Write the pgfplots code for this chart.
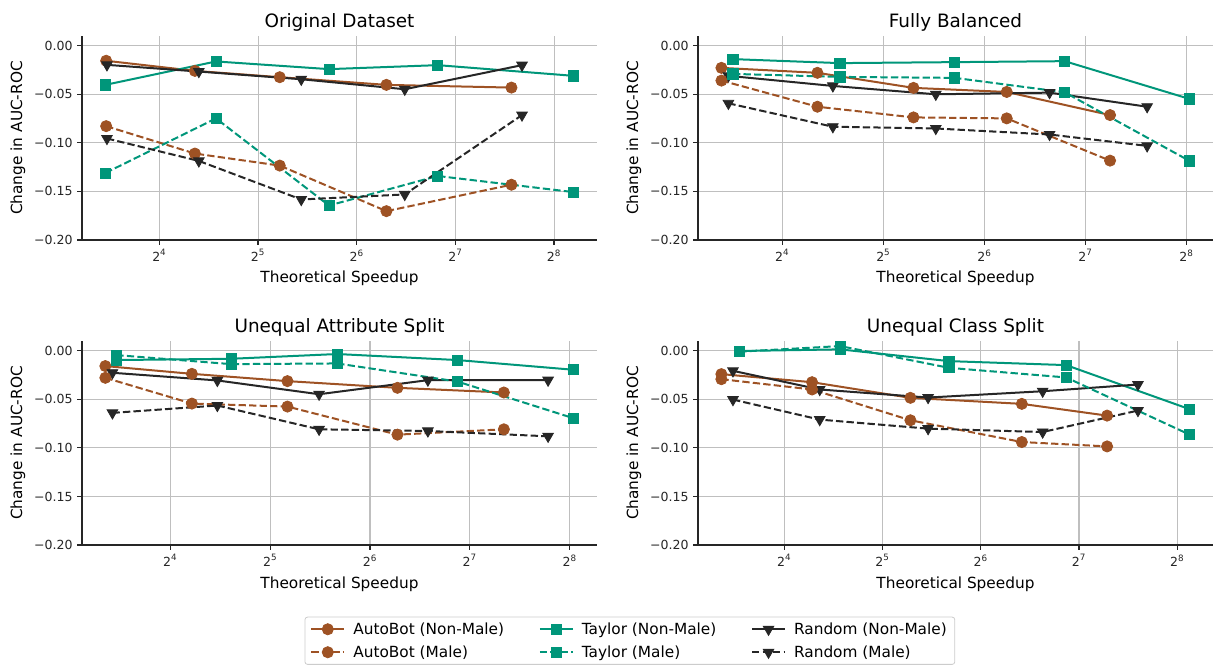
\documentclass[border=0pt]{standalone}
\usepackage{fontspec}
\setmainfont{DejaVu Sans}
\usepackage{pgfplots}
\pgfplotsset{compat=1.18}

\definecolor{cbrown}{HTML}{9E5224}
\definecolor{cgreen}{HTML}{00967A}
\definecolor{cblack}{HTML}{262626}

\pgfplotsset{
  panel/.style={
    scale only axis, width=386.25pt, height=153pt,
    anchor=north west,
    axis x line*=bottom, axis y line*=left,
    axis line style={cblack, line width=0.9pt},
    xmin=3.2, xmax=8.4,
    ymin=-0.2, ymax=0.01,
    ytick={-0.2,-0.15,-0.1,-0.05,0},
    yticklabels={−0.20,−0.15,−0.10,−0.05,0.00},
    xtick={4,5,6,7,8},
    xticklabels={2\textsuperscript{4},2\textsuperscript{5},2\textsuperscript{6},2\textsuperscript{7},2\textsuperscript{8}},
    tick align=outside, major tick length=3.6pt,
    tick style={cblack, line width=0.9pt},
    grid=major, grid style={black!25, line width=0.8pt},
    tick label style={font=\fontsize{9.4}{11}\selectfont, text=cblack},
    xlabel={Theoretical Speedup}, ylabel={Change in AUC-ROC},
    label style={font=\fontsize{11.5}{13.8}\selectfont},
    xlabel style={at={(axis description cs:0.5,-0.19)}, anchor=center},
    ylabel style={at={(axis description cs:-0.1243,0.5)}, anchor=center},
    every axis title shift=0pt,
    title style={at={(axis description cs:0.5,1.068)}, anchor=center, font=\fontsize{13.8}{16}\selectfont},
    clip=false,
    every axis plot/.append style={line width=1.5pt},
  },
  ab/.style={cbrown, mark=*, mark size=4.2pt, mark options={solid, line width=0.6pt}},
  ty/.style={cgreen, mark=square*, mark size=3.8pt, mark options={solid, line width=0.6pt}},
  rd/.style={cblack, mark=triangle*, mark size=4.6pt, mark options={solid, rotate=180, line width=0.6pt}},
  male/.style={dash pattern=on 5.5pt off 2.4pt},
}

\begin{document}
\begin{tikzpicture}
\useasboundingbox (0,0) rectangle (909.75pt,-498.75pt);

% Original Dataset
\begin{axis}[panel, at={(61.5pt,-27pt)}, xmin=3.216, xmax=8.435, title={Original Dataset}]
\addplot[ab] coordinates {(3.461,-0.0155)(4.360,-0.0259)(5.220,-0.0324)(6.301,-0.0403)(7.568,-0.0431)};
\addplot[ty] coordinates {(3.453,-0.0403)(4.574,-0.0162)(5.719,-0.0241)(6.820,-0.0200)(8.198,-0.0310)};
\addplot[rd] coordinates {(3.469,-0.0197)(4.400,-0.0266)(5.438,-0.0345)(6.487,-0.0448)(7.675,-0.0200)};
\addplot[ab,male] coordinates {(3.461,-0.0828)(4.360,-0.1110)(5.220,-0.1234)(6.301,-0.1703)(7.568,-0.1431)};
\addplot[ty,male] coordinates {(3.453,-0.1310)(4.574,-0.0748)(5.719,-0.1645)(6.820,-0.1341)(8.198,-0.1507)};
\addplot[rd,male] coordinates {(3.469,-0.0955)(4.400,-0.1186)(5.438,-0.1583)(6.487,-0.1531)(7.675,-0.0714)};
\end{axis}

% Fully Balanced
\begin{axis}[panel, at={(523.5pt,-27pt)}, xmin=3.165, xmax=8.263, title={Fully Balanced}]
\addplot[ab] coordinates {(3.397,-0.0228)(4.347,-0.0279)(5.298,-0.0434)(6.221,-0.0476)(7.244,-0.0714)};
\addplot[ty] coordinates {(3.511,-0.0138)(4.569,-0.0179)(5.706,-0.0169)(6.794,-0.0159)(8.031,-0.0548)};
\addplot[rd] coordinates {(3.466,-0.0310)(4.500,-0.0414)(5.519,-0.0500)(6.645,-0.0483)(7.611,-0.0628)};
\addplot[ab,male] coordinates {(3.397,-0.0359)(4.347,-0.0628)(5.298,-0.0738)(6.221,-0.0748)(7.244,-0.1183)};
\addplot[ty,male] coordinates {(3.511,-0.0290)(4.569,-0.0321)(5.706,-0.0331)(6.794,-0.0479)(8.031,-0.1186)};
\addplot[rd,male] coordinates {(3.466,-0.0593)(4.500,-0.0834)(5.519,-0.0852)(6.645,-0.0914)(7.611,-0.1031)};
\end{axis}

% Unequal Attribute Split
\begin{axis}[panel, at={(61.5pt,-255.75pt)}, xmin=3.115, xmax=8.274, title={Unequal Attribute Split}]
\addplot[ab] coordinates {(3.349,-0.0158)(4.216,-0.0238)(5.173,-0.0313)(6.275,-0.0382)(7.341,-0.0430)};
\addplot[ty] coordinates {(3.459,-0.0096)(4.608,-0.0083)(5.671,-0.0034)(6.875,-0.0096)(8.039,-0.0196)};
\addplot[rd] coordinates {(3.420,-0.0227)(4.471,-0.0306)(5.490,-0.0448)(6.580,-0.0303)(7.784,-0.0303)};
\addplot[ab,male] coordinates {(3.349,-0.0279)(4.216,-0.0544)(5.173,-0.0575)(6.275,-0.0864)(7.341,-0.0809)};
\addplot[ty,male] coordinates {(3.459,-0.0045)(4.608,-0.0138)(5.671,-0.0131)(6.875,-0.0317)(8.039,-0.0695)};
\addplot[rd,male] coordinates {(3.420,-0.0640)(4.471,-0.0564)(5.490,-0.0809)(6.580,-0.0826)(7.784,-0.0881)};
\end{axis}

% Unequal Class Split (carries the legend)
\begin{axis}[panel, at={(523.5pt,-255.75pt)}, xmin=3.122, xmax=8.364, title={Unequal Class Split},
  legend columns=3, legend cell align=left,
  legend image code/.code={\draw[mark repeat=2,mark phase=2] plot coordinates {(0pt,0pt) (12.4pt,0pt) (24.8pt,0pt)};},
  legend style={at={(-0.1323,-0.3514)}, anchor=north, draw=black!20, line width=0.6pt,
    rounded corners=2pt, font=\fontsize{11.5}{13.8}\selectfont, row sep=3pt,
    inner xsep=4pt,
    /tikz/every odd column/.append style={column sep=4pt},
    /tikz/every even column/.append style={column sep=24pt}}]
\addplot[ab] coordinates {(3.360,-0.0241)(4.283,-0.0324)(5.284,-0.0485)(6.418,-0.0547)(7.286,-0.0668)};
\addlegendentry{AutoBot (Non-Male)}
\addplot[ty] coordinates {(3.541,-0.0003)(4.569,0.0014)(5.676,-0.0107)(6.869,-0.0148)(8.126,-0.0602)};
\addlegendentry{Taylor (Non-Male)}
\addplot[rd] coordinates {(3.478,-0.0207)(4.361,-0.0399)(5.464,-0.0482)(6.630,-0.0417)(7.600,-0.0348)};
\addlegendentry{Random (Non-Male)}
\addplot[ab,male] coordinates {(3.360,-0.0293)(4.283,-0.0399)(5.284,-0.0716)(6.418,-0.0940)(7.286,-0.0985)};
\addlegendentry{AutoBot (Male)}
\addplot[ty,male] coordinates {(3.541,-0.0010)(4.569,0.0048)(5.676,-0.0176)(6.869,-0.0275)(8.126,-0.0864)};
\addlegendentry{Taylor (Male)}
\addplot[rd,male] coordinates {(3.478,-0.0503)(4.361,-0.0709)(5.464,-0.0802)(6.630,-0.0837)(7.600,-0.0616)};
\addlegendentry{Random (Male)}
\end{axis}
\end{tikzpicture}
\end{document}
